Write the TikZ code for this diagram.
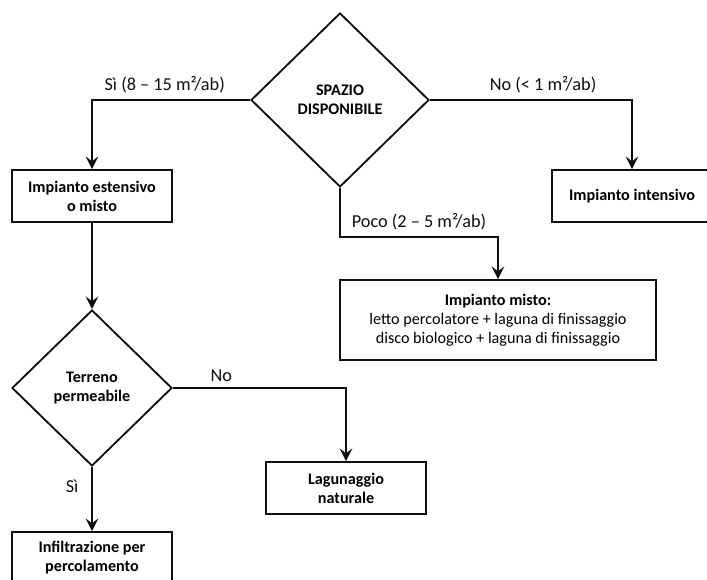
\documentclass[tikz,border=0pt]{standalone}
\usepackage{fontspec}
\setmainfont{Carlito}
\usepackage{tikz}
\usetikzlibrary{arrows.meta,shapes.geometric}
\definecolor{inkc}{RGB}{15,15,15}

\begin{document}
\begin{tikzpicture}[>={Stealth[length=9pt,width=9pt,inset=3.5pt]},
  box/.style={draw=inkc,line width=1.3pt,minimum width=4.0cm,minimum height=1.3cm,align=center,inner sep=2pt,font=\fontsize{11.5}{13.5}\selectfont\bfseries},
  dec/.style={draw=inkc,line width=1.3pt,diamond,aspect=1,inner sep=0pt,align=center,font=\fontsize{11.5}{13.5}\selectfont\bfseries},
  lnk/.style={draw=inkc,line width=1.3pt,->},
  lbl/.style={inkc,inner sep=2pt,font=\fontsize{13}{15}\selectfont}]
\useasboundingbox (0,0) rectangle (17.675,-14.5);
\clip (0,0) rectangle (17.675,-14.5);
% nodes
\node[dec,minimum width=4.45cm,minimum height=4.35cm] (spazio) at (8.5,-2.5) {SPAZIO\\DISPONIBILE};
\node[box] (estens) at (2.3,-4.9) {Impianto estensivo\\o misto};
\node[box] (intens) at (15.8,-4.9) {Impianto intensivo};
\node[box,minimum width=7.9cm,minimum height=2.0cm] (misto) at (12.45,-8.0) {Impianto misto:\\\mdseries letto percolatore + laguna di finissaggio\\\mdseries disco biologico + laguna di finissaggio};
\node[dec,minimum width=4.0cm,minimum height=3.9cm] (terreno) at (2.3,-9.7) {Terreno\\permeabile};
\node[box] (lagun) at (8.65,-12.2) {Lagunaggio\\naturale};
\node[box] (infil) at (2.3,-13.95) {Infiltrazione per\\percolamento};
% connectors
\draw[lnk] (spazio.west) -| node[lbl,pos=0.27,above=2pt] (lsi) {Sì (8 – 15 m²/ab)} (estens.north);
\draw[lnk] (spazio.east) -| node[lbl,pos=0.28,above=2pt] (lno) {No (< 1 m²/ab)} (intens.north);
\draw[lnk] (spazio.south) -- ++(0,-1.225) -| node[lbl,pos=0.25,above=2pt] (lpoco) {Poco (2 – 5 m²/ab)} (misto.north);
\draw[lnk] (estens) -- (terreno);
\draw[lnk] (terreno.east) -| node[lbl,pos=0.14,above=2pt] (lno2) {No} (lagun.north);
\draw[lnk] (terreno) -- node[lbl,pos=0.3,left=7pt] (lsi2) {Sì} (infil);
\end{tikzpicture}
\end{document}
